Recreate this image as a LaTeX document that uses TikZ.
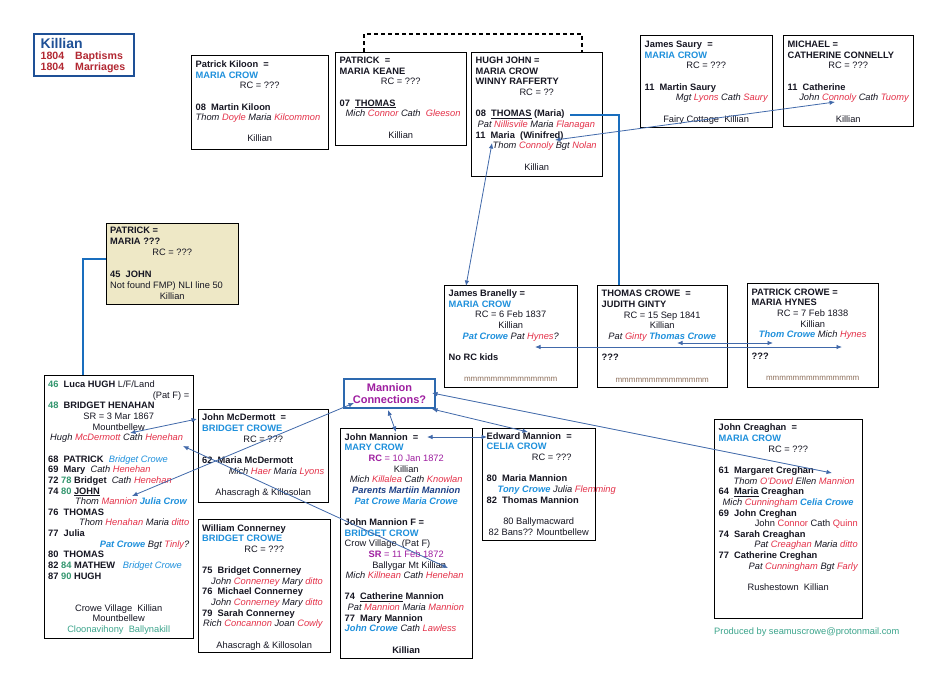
\documentclass[tikz,border=0pt]{standalone}
\usepackage{fontspec}
\setmainfont{Liberation Sans}
\usetikzlibrary{arrows.meta}
\definecolor{cdark}{RGB}{22,22,34}
\definecolor{cblueT}{RGB}{30,144,220}
\definecolor{credT}{RGB}{228,48,72}
\definecolor{cpurple}{RGB}{158,30,160}
\definecolor{cgreenT}{RGB}{50,150,110}
\definecolor{cteal}{RGB}{60,165,140}
\definecolor{cnavy}{RGB}{30,65,135}
\definecolor{ctan}{RGB}{238,232,198}
\definecolor{clink}{RGB}{65,105,170}
\definecolor{cthick}{RGB}{25,110,190}
\definecolor{clegR}{RGB}{178,40,50}
\definecolor{clegB}{RGB}{30,80,150}
\definecolor{cmcb}{RGB}{45,105,175}
\definecolor{cmm}{RGB}{140,110,90}
\newlength{\mybw}
\newcommand\mystrut{\rule{0pt}{8pt}}
\newcommand\myC[1]{\makebox[\mybw][c]{#1}}
\newcommand\myRt[1]{\makebox[\mybw][r]{#1}}
\newcommand\myB[1]{\textcolor{cblueT}{#1}}
\newcommand\myR[1]{\textcolor{credT}{#1}}
\newcommand\myG[1]{\textcolor{cgreenT}{#1}}
\newcommand\myP[1]{\textcolor{cpurple}{#1}}
\newcommand\myN[1]{\textcolor{cnavy}{#1}}
\newcommand\myBI[1]{\textcolor{cblueT}{\bfseries\itshape #1}}
\newcommand\myM{{\fontsize{8}{10.65}\selectfont\textcolor{cmm}{mmmmmmmmmmmmmm}}}
\tikzset{
  boxst/.style={draw=black, line width=1pt, anchor=north west, inner sep=0pt, outer sep=0pt},
  txt/.style={anchor=north west, inner sep=0pt, align=left, text=cdark,
    font=\fontsize{9.3}{10.65}\selectfont, execute at begin node={\setlength{\mybw}{#1}}},
  lnk/.style={draw=clink, line width=0.8pt, {Latex[length=5.5pt,width=4.5pt]}-{Latex[length=5.5pt,width=4.5pt]}},
  thk/.style={draw=cthick, line width=2.3pt},
}
\begin{document}
\begin{tikzpicture}[x=1pt,y=-1pt]
\fill[white] (0,0) rectangle (950,672);
\useasboundingbox (0,0) rectangle (950,672);

% legend
\node[boxst, draw=clegB, line width=1.2pt, minimum width=100pt, minimum height=42pt] (legend) at (34,34) {};
\node[anchor=base west, inner sep=0pt, font=\fontsize{14}{14}\selectfont\bfseries, text=clegB] (legK) at (40.5,48.3) {Killian};
\node[anchor=base west, inner sep=0pt, font=\fontsize{10.6}{10.6}\selectfont\bfseries, text=clegR] (legBap) at (40.5,59.8) {\makebox[34.5pt][l]{1804}Baptisms};
\node[anchor=base west, inner sep=0pt, font=\fontsize{10.6}{10.6}\selectfont\bfseries, text=clegR] (legMar) at (40.5,70.5) {\makebox[34.5pt][l]{1804}Marriages};

% Patrick Kiloon
\node[boxst, minimum width=137pt, minimum height=94pt] (kiloon) at (191,55) {};
\node[txt=128pt] (kiloonT) at (195.5,59.2) {\mystrut\textbf{Patrick Kiloon\ \ =}\\
\textbf{\myB{MARIA CROW}}\\
\myC{RC = ???}\\[10.65pt]
\textbf{08\ \ Martin Kiloon}\\
\textit{Thom \myR{Doyle} Maria \myR{Kilcommon}}\\[10.65pt]
\myC{Killian}};

% Patrick Keane
\node[boxst, minimum width=131pt, minimum height=93pt] (keane) at (335,52) {};
\node[txt=122pt] (keaneT) at (339.5,55.3) {\mystrut\textbf{PATRICK\ \ =}\\
\textbf{MARIA KEANE}\\
\myC{RC = ???}\\[10.65pt]
\textbf{07\ \ \underline{THOMAS}}\\
\hspace*{6pt}\textit{Mich \myR{Connor} Cath\ \ \myR{Gleeson}}\\[10.65pt]
\myC{Killian}};

% Hugh John
\node[boxst, minimum width=131pt, minimum height=124pt] (hugh) at (471,52) {};
\node[txt=122pt] (hughT) at (475.5,55.3) {\mystrut\textbf{HUGH JOHN =}\\
\textbf{MARIA CROW}\\
\textbf{WINNY RAFFERTY}\\
\myC{RC = ??}\\[10.65pt]
\textbf{08\ \ \underline{THOMAS} (Maria)}\\
\hspace*{2pt}\textit{Pat \myR{Nillisvile} Maria \myR{Flanagan}}\\
\textbf{11\ \ Maria\ \ (Winifred)}\\
\hspace*{17pt}\textit{Thom \myR{Connoly} Bgt \myR{Nolan}}\\[10.65pt]
\myC{Killian}};

% James Saury
\node[boxst, minimum width=132pt, minimum height=92pt] (saury) at (640,35) {};
\node[txt=123pt] (sauryT) at (644.5,39.3) {\mystrut\textbf{James Saury\ \ =}\\
\textbf{\myB{MARIA CROW}}\\
\myC{RC = ???}\\[10.65pt]
\textbf{11\ \ Martin Saury}\\
\myRt{\textit{Mgt \myR{Lyons} Cath \myR{Saury}}}\\[10.65pt]
\myC{Fairy Cottage\ \ Killian}};

% Michael
\node[boxst, minimum width=130pt, minimum height=91pt] (michael) at (783,35) {};
\node[txt=121pt] (michaelT) at (787.5,39.3) {\mystrut\textbf{MICHAEL =}\\
\textbf{CATHERINE CONNELLY}\\
\myC{RC = ???}\\[10.65pt]
\textbf{11\ \ Catherine}\\
\myRt{\textit{John \myR{Connoly} Cath \myR{Tuomy}}}\\[10.65pt]
\myC{Killian}};

% Patrick / Maria ???
\node[boxst, fill=ctan, minimum width=132pt, minimum height=81pt] (tan) at (106,223) {};
\node[txt=124pt, font=\fontsize{9.3}{11.2}\selectfont] (tanT) at (110,225.3) {\mystrut\textbf{PATRICK =}\\
\textbf{MARIA ???}\\
\myC{RC = ???}\\[10pt]
\textbf{45\ \ JOHN}\\
Not found FMP) NLI line 50\\
\myC{Killian}};

% Luca Hugh
\node[boxst, minimum width=149pt, minimum height=263pt] (luca) at (44,375) {};
\node[txt=141pt] (lucaT) at (48,379.3) {\mystrut\textbf{\myG{46}\ \ Luca HUGH} L/F/Land\\
\myRt{(Pat F) =}\\
\textbf{\myG{48}\ \ BRIDGET HENAHAN}\\
\myC{SR = 3 Mar 1867}\\
\myC{Mountbellew}\\
\hspace*{2pt}\textit{Hugh \myR{McDermott} Cath \myR{Henehan}}\\[10.65pt]
\textbf{68\ \ PATRICK}\ \ \textit{\myB{Bridget Crowe}}\\
\textbf{69\ \ Mary}\ \ \textit{Cath \myR{Henehan}}\\
\textbf{72 \myG{78} Bridget}\ \ \textit{Cath \myR{Henehan}}\\
\textbf{74 \myG{80} \underline{JOHN}}\\
\hspace*{27pt}\textit{Thom \myR{Mannion} \myBI{Julia Crow}}\\
\textbf{76\ \ THOMAS}\\
\myRt{\textit{Thom \myR{Henahan} Maria \myR{ditto}}}\\
\textbf{77\ \ Julia}\\
\myRt{\textit{\myBI{Pat Crowe} Bgt \myR{Tinly}?}}\\
\textbf{80\ \ THOMAS}\\
\textbf{82 \myG{84} MATHEW}\ \ \ \textit{\myB{Bridget Crowe}}\\
\textbf{87 \myG{90} HUGH}\\[21.3pt]
\myC{Crowe Village\ \ Killian}\\
\myC{Mountbellew}\\
\myC{\textcolor{cteal}{Cloonavihony\ \ Ballynakill}}};

% John McDermott
\node[boxst, minimum width=130pt, minimum height=93pt] (mcd) at (198,409) {};
\node[txt=122pt] (mcdT) at (202,412.6) {\mystrut\textbf{John McDermott\ \ =}\\
\textbf{\myB{BRIDGET CROWE}}\\
\myC{RC = ???}\\[10.65pt]
\textbf{62\ \ Maria McDermott}\\
\myRt{\textit{Mich \myR{Haer} Maria \myR{Lyons}}}\\[10.65pt]
\myC{Ahascragh \& Killosolan}};

% William Connerney
\node[boxst, minimum width=132pt, minimum height=133pt] (conn) at (198,519) {};
\node[txt=124pt] (connT) at (202,522.8) {\mystrut\textbf{William Connerney}\\
\textbf{\myB{BRIDGET CROWE}}\\
\myC{RC = ???}\\[10.65pt]
\textbf{75\ \ Bridget Connerney}\\
\hspace*{9pt}\textit{John \myR{Connerney} Mary \myR{ditto}}\\
\textbf{76\ \ Michael Connerney}\\
\hspace*{9pt}\textit{John \myR{Connerney} Mary \myR{ditto}}\\
\textbf{79\ \ Sarah Connerney}\\
\hspace*{1pt}\textit{Rich \myR{Concannon} Joan \myR{Cowly}}\\[10.65pt]
\myC{Ahascragh \& Killosolan}};

% Mannion Connections
\node[draw=cmcb, line width=1.2pt, anchor=north west, minimum width=91pt, minimum height=29pt, inner sep=0pt, outer sep=0pt, align=center, font=\fontsize{11}{11.6}\selectfont\bfseries, text=cpurple] (mc) at (344,379) {Mannion\\Connections?};

% John Mannion
\node[boxst, minimum width=132pt, minimum height=230pt] (jm) at (340,428) {};
\node[txt=123pt] (jmT) at (344.5,432) {\mystrut\textbf{John Mannion\ \ =}\\
\textbf{\myB{MARY CROW}}\\
\myC{\myP{\textbf{RC} = 10 Jan 1872}}\\
\myC{Killian}\\
\myC{\textit{Mich \myR{Killalea} Cath \myR{Knowlan}}}\\
\myC{\myN{\bfseries\itshape Parents Martiin Mannion}}\\
\myC{\myBI{Pat Crowe Maria Crowe}}\\[10.65pt]
\textbf{John Mannion F =}\\
\textbf{\myB{BRIDGET CROW}}\\
Crow Village\ \ (Pat F)\\
\myC{\myP{\textbf{SR} = 11 Feb 1872}}\\
\myC{\hspace*{6pt}Ballygar Mt Killian}\\
\hspace*{1pt}\textit{Mich \myR{Killnean} Cath \myR{Henehan}}\\[10.65pt]
\textbf{74\ \ \underline{Catherine} Mannion}\\
\hspace*{3pt}\textit{Pat \myR{Mannion} Maria \myR{Mannion}}\\
\textbf{77\ \ Mary Mannion}\\
\textit{\myBI{John Crowe} Cath \myR{Lawless}}\\[10.65pt]
\myC{\textbf{Killian}}};

% Edward Mannion
\node[boxst, minimum width=113pt, minimum height=112pt] (ed) at (482,428) {};
\node[txt=104pt] (edT) at (486.5,431) {\mystrut\textbf{Edward Mannion\ \ =}\\
\textbf{\myB{CELIA CROW}}\\
\myC{\hspace*{26pt}RC = ???}\\[10.65pt]
\textbf{80\ \ Maria Mannion}\\
\hspace*{11pt}\textit{\myBI{Tony Crowe} Julia \myR{Flemming}}\\
\textbf{82\ \ Thomas Mannion}\\[10.65pt]
\myC{80 Ballymacward}\\
\myC{82 Bans?? Mountbellew}};

% James Branelly
\node[boxst, minimum width=133pt, minimum height=102pt] (bran) at (444,285) {};
\node[txt=124pt] (branT) at (448.5,288.3) {\mystrut\textbf{James Branelly =}\\
\textbf{\myB{MARIA CROW}}\\
\myC{RC = 6 Feb 1837}\\
\myC{Killian}\\
\myC{\textit{\myBI{Pat Crowe} Pat \myR{Hynes}?}}\\[10.65pt]
\textbf{No RC kids}\\[10.65pt]
\myC{\myM}};

% Thomas Crowe
\node[boxst, minimum width=130pt, minimum height=102pt] (tcrowe) at (597,285) {};
\node[txt=121pt] (tcroweT) at (601.5,288.6) {\mystrut\textbf{THOMAS CROWE\ \ =}\\
\textbf{JUDITH GINTY}\\
\myC{RC = 15 Sep 1841}\\
\myC{Killian}\\
\myC{\textit{Pat \myR{Ginty} \myBI{Thomas Crowe}}}\\[10.65pt]
\textbf{???}\\[10.65pt]
\myC{\myM}};

% Patrick Crowe
\node[boxst, minimum width=131pt, minimum height=104pt] (pcrowe) at (747,283) {};
\node[txt=122pt] (pcroweT) at (751.5,287) {\mystrut\textbf{PATRICK CROWE =}\\
\textbf{MARIA HYNES}\\
\myC{RC = 7 Feb 1838}\\
\myC{Killian}\\
\myC{\textit{\myBI{Thom Crowe} Mich \myR{Hynes}}}\\[10.65pt]
\textbf{???}\\[10.65pt]
\myC{\myM}};

% John Creaghan
\node[boxst, minimum width=148pt, minimum height=199pt] (creag) at (714,419) {};
\node[txt=139pt] (creagT) at (718.5,422.6) {\mystrut\textbf{John Creaghan\ \ =}\\
\textbf{\myB{MARIA CROW}}\\
\myC{RC = ???}\\[10.65pt]
\textbf{61\ \ Margaret Creghan}\\
\hspace*{15pt}\textit{Thom \myR{O'Dowd} Ellen \myR{Mannion}}\\
\textbf{64\ \ \underline{Maria} Creaghan}\\
\hspace*{4pt}\textit{Mich \myR{Cunningham} \myBI{Celia Crowe}}\\
\textbf{69\ \ John Creghan}\\
\myRt{John \myR{Connor} Cath \myR{Quinn}}\\
\textbf{74\ \ Sarah Creaghan}\\
\myRt{\textit{Pat \myR{Creaghan} Maria \myR{ditto}}}\\
\textbf{77\ \ Catherine Creghan}\\
\myRt{\textit{Pat \myR{Cunningham} Bgt \myR{Farly}}}\\[10.65pt]
\myC{Rushestown\ \ Killian}};

% credit
\node[anchor=west, inner sep=0pt, font=\fontsize{9.3}{10.65}\selectfont, text=cteal] (credit) at (714,632) {Produced by seamuscrowe@protonmail.com};

% connector end points
\coordinate (dA) at (364,52);
\coordinate (dB) at (582,52);
\coordinate (thomEnd) at (570,115);
\coordinate (tcTop) at (619,285);
\coordinate (tanL) at (106,259);
\coordinate (lucaTop) at (83,375);
\coordinate (hughBgt) at (555,140);
\coordinate (michCon) at (835,102);
\coordinate (hughMaria) at (492,143);
\coordinate (branTop) at (466,286);
\coordinate (branHynes) at (535,347);
\coordinate (pcHynes) at (842,347);
\coordinate (tcCrowe) at (677,343);
\coordinate (pcThom) at (773,343);
\coordinate (mcBot) at (388,410);
\coordinate (jmTop) at (396,432);
\coordinate (mcBR) at (432,409);
\coordinate (edTop) at (528,432);
\coordinate (mcR) at (432,393);
\coordinate (creagMarg) at (832,473);
\coordinate (jmEq) at (427,437);
\coordinate (edName) at (487,437);
\coordinate (lucaMcd) at (130,433);
\coordinate (mcdName) at (197,419);
\coordinate (lucaHen) at (183,446);
\coordinate (jmfBally) at (448,568);
\coordinate (lucaThom) at (132,496);
\coordinate (mcBL) at (354,403);

% dashed marriage link
\draw[line width=2pt, dash pattern=on 4pt off 3pt] (dA) -- ++(0,-18) -| (dB);
% thick links
\draw[thk] (thomEnd) -| (tcTop);
\draw[thk] (tanL) -| (lucaTop);
% thin arrows
\draw[lnk] (hughBgt) -- (michCon);
\draw[lnk] (hughMaria) -- (branTop);
\draw[lnk] (branHynes) -- (pcHynes);
\draw[lnk] (tcCrowe) -- (pcThom);
\draw[lnk] (mcBot) -- (jmTop);
\draw[lnk] (mcBR) -- (edTop);
\draw[lnk] (mcR) -- (creagMarg);
\draw[lnk] (jmEq) -- (edName);
\draw[lnk] (lucaMcd) -- (mcdName);
\draw[lnk] (lucaHen) -- (jmfBally);
\draw[lnk] (lucaThom) -- (mcBL);
\end{tikzpicture}
\end{document}
